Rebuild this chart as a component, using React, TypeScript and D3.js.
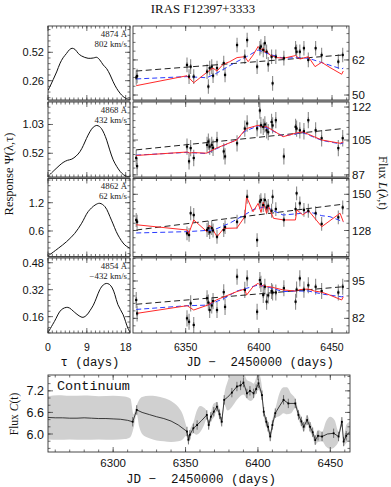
import React from "react";
import * as d3 from "d3";

// ---------------- data ----------------
const TITLE = "IRAS F12397+3333";
const LINE_WAVE = ["4874 Å", "4868 Å", "4862 Å", "4854 Å"];
const LINE_VEL = ["802 km/s", "432 km/s", "62 km/s", "\u2212432 km/s"];

const TAU_TICKS = [0, 9, 18];
const PSI_TICKS = [[0.26, 0.52], [0.52, 1.03], [0.6, 1.2], [0.16, 0.32, 0.48]];
const PSI_TICK_LABELS = [["0.26", "0.52"], ["0.52", "1.03"], ["0.6", "1.2"], ["0.16", "0.32", "0.48"]];
const PSI_DOMAINS = [[0.083, 0.761], [0.1, 1.428], [0.059, 1.713], [0.063, 0.508]];
const PSI_MINOR = [0.052, 0.102, 0.12, 0.032];

const FLUX_TICKS = [[50, 62], [87, 105, 122], [128, 150], [82, 95]];
const FLUX_DOMAINS = [[48.3, 73.6], [85.9, 124.6], [112.2, 159.6], [76.9, 103]];
const FLUX_MINOR = [3, 3.5, 4.4, 2.6];
const FLUX_ERR = [2.5, 4.2, 4.2, 2.8];

const JD_TICKS = [6350, 6400, 6450];
const CONT_JD_TICKS = [6300, 6350, 6400, 6450];
const CONT_TICKS = [6.0, 6.6, 7.2];

// transfer functions Psi(tau)
const PSI1_TAU = [0, 0.5, 1.2, 2.0, 2.8, 3.5, 4.3, 5.0, 5.6, 6.3, 7.0, 7.8, 9.3, 10.5, 11.3, 12.0, 12.8, 13.6, 14.4, 15.1, 15.9, 16.7, 17.4, 18.2, 19];
const PSI1_VAL = [0.17, 0.21, 0.27, 0.34, 0.42, 0.47, 0.51, 0.545, 0.557, 0.545, 0.51, 0.486, 0.465, 0.468, 0.474, 0.45, 0.404, 0.37, 0.312, 0.25, 0.19, 0.145, 0.115, 0.095, 0.088];
const PSI2_TAU = [0, 1.6, 3.5, 4.5, 5.5, 6.5, 7.4, 8.2, 8.9, 9.7, 10.5, 11.3, 11.9, 12.4, 13.0, 13.6, 14.3, 15.1, 15.9, 16.7, 17.5, 18.2, 19];
const PSI2_VAL = [0.11, 0.23, 0.357, 0.395, 0.416, 0.47, 0.548, 0.66, 0.78, 0.9, 0.983, 1.013, 0.995, 0.955, 0.87, 0.752, 0.58, 0.404, 0.29, 0.2, 0.14, 0.113, 0.1];
const PSI3_TAU = [0, 2.4, 4.3, 6.2, 7.8, 9.3, 10.9, 12, 13.2, 14.7, 16.2, 17.8, 19];
const PSI3_VAL = [0.07, 0.234, 0.374, 0.55, 0.764, 1.01, 1.15, 1.187, 1.115, 0.83, 0.516, 0.304, 0.234];
const PSI4_TAU = [0, 1.5, 3.1, 4.6, 6.2, 7.2, 8.1, 9.0, 9.7, 10.5, 11.2, 12.0, 12.8, 13.5, 14.2, 14.9, 15.5, 16.2, 17.4, 18.5, 19];
const PSI4_VAL = [0.065, 0.132, 0.201, 0.215, 0.185, 0.165, 0.156, 0.17, 0.195, 0.228, 0.27, 0.32, 0.348, 0.357, 0.352, 0.33, 0.29, 0.231, 0.172, 0.092, 0.068];

// observed line light curves (common epochs)
const EPOCHS = [6316.2, 6316.8, 6350.9, 6352.3, 6353.4, 6355.5, 6364.6, 6365.5, 6366.4, 6367.8, 6368.7, 6371.4, 6376.0, 6376.9, 6385.1, 6390.4, 6392.0, 6398.8, 6400.7, 6401.4, 6403.0, 6404.1, 6405.3, 6406.4, 6408.7, 6409.4, 6411.6, 6417.1, 6425.1, 6425.8, 6428.0, 6430.8, 6433.8, 6438.8, 6442.9, 6454.3, 6457.3];
const L1 = [56.0, 56.5, 60.3, 56.3, 59.7, 56.3, 58.0, 52.9, 59.2, 59.7, 56.6, 59.2, 60.9, 56.9, 67.1, 63.1, 68.8, 59.7, 66.0, 66.6, 65.4, 67.7, 64.8, 60.5, 63.1, 54.0, 63.1, 62.6, 66.0, 64.8, 64.8, 66.0, 62.0, 66.0, 63.7, 61.4, 63.7];
const L2 = [95.7, 91.5, 101.6, 94.0, 100.8, 95.7, 102.5, 104.2, 101.6, 102.5, 101.0, 105.0, 99.1, 96.5, 103.3, 110.9, 113.5, 111.0, 120.2, 112.6, 111.8, 113.0, 110.0, 109.0, 114.3, 112.5, 115.2, 96.5, 111.8, 110.9, 110.0, 109.5, 115.2, 110.0, 105.9, 100.8, 105.9];
const L3 = [134.4, 133.3, 126.3, 125.3, 138.5, 137.4, 128.3, 129.5, 127.0, 129.5, 128.0, 124.2, 128.3, 130.0, 133.3, 136.4, 148.5, 122.2, 145.5, 146.5, 143.5, 146.5, 142.0, 143.0, 140.0, 148.5, 141.0, 134.5, 141.0, 150.6, 144.5, 140.5, 140.0, 138.5, 132.0, 136.0, 142.0];
const L4 = [88.4, 83.7, 82.0, 80.8, 87.2, 79.7, 89.0, 87.5, 84.9, 86.5, 88.0, 84.9, 91.1, 86.0, 96.5, 91.9, 95.9, 84.3, 95.3, 94.0, 90.1, 93.0, 87.8, 90.0, 91.5, 91.0, 91.0, 92.5, 87.8, 92.0, 95.9, 92.0, 93.5, 93.0, 91.5, 91.0, 93.0];

// model light curves (red solid)
const RED1_JD = [6316.2, 6350.9, 6355.5, 6364.6, 6368.7, 6371.4, 6375.6, 6380.1, 6385.1, 6390.4, 6392.7, 6396.1, 6399.5, 6401.8, 6403, 6404.1, 6405.3, 6407.5, 6412.1, 6417.1, 6425.1, 6428.1, 6433.8, 6438.4, 6442.9, 6448.6, 6456.6, 6457.7];
const RED1_VAL = [53.2, 56.6, 54.2, 57.8, 59.2, 58.2, 60.5, 61.4, 62.8, 63.1, 61.4, 63.7, 66.6, 65.4, 66.0, 64.6, 65.1, 63.7, 62.8, 62.6, 63.5, 62.3, 63.1, 59.7, 61.2, 59.4, 57.1, 58.2];
const RED2_JD = [6316.2, 6351, 6352.5, 6355.5, 6364.3, 6371, 6384.9, 6390.4, 6392, 6399.5, 6401.5, 6403, 6405, 6407.5, 6416.6, 6425, 6430, 6443, 6455.5, 6457.7];
const RED2_VAL = [97, 98.8, 98.3, 98.5, 98.2, 100.8, 105, 110.1, 111, 112.6, 112, 111.5, 112, 110.9, 106.7, 108.5, 109.2, 105, 103.3, 104];
const RED3_JD = [6316.2, 6351, 6352, 6355.5, 6364.5, 6366, 6367.5, 6371.4, 6376, 6385, 6390.4, 6391.6, 6396, 6399.5, 6401.5, 6403, 6405.3, 6406.5, 6410, 6417, 6425, 6426, 6430, 6434, 6443, 6455.5, 6457.7];
const RED3_VAL = [131.5, 128.3, 126, 134.4, 127.3, 131, 130.3, 124.2, 129.3, 129.5, 136.4, 148.5, 139.4, 144.5, 139, 145.1, 138.5, 143, 135.4, 134.4, 134.4, 140.5, 137.5, 140, 130.3, 138.5, 133.3];
const RED4_JD = [6316.2, 6351, 6355.5, 6365, 6370.9, 6384.9, 6390.4, 6391.6, 6396, 6399.5, 6401.8, 6403, 6405.3, 6407.5, 6416.6, 6425, 6428, 6433.8, 6438, 6443, 6448, 6456.6, 6457.7];
const RED4_VAL = [83.7, 86.4, 84.9, 86.6, 88.4, 91.3, 92.2, 90.1, 93, 94.2, 93, 93.6, 93, 93, 91.9, 91.5, 92, 92.2, 91.5, 91.1, 90.2, 88.4, 89.5];

// blue dashed model
const BLUE1_JD = [6316.2, 6350.9, 6364.3, 6370.9, 6384.9, 6391.6, 6399.5, 6407.5, 6416.6, 6425.8, 6433.8, 6444.1, 6456.6, 6457.7];
const BLUE1_VAL = [55.5, 56.3, 55.9, 57.4, 61.4, 63.1, 65.4, 63.9, 62.6, 62.8, 62.6, 60.9, 58.9, 59.2];
const BLUE2_JD = [6316.2, 6351, 6364.3, 6371, 6385, 6390.4, 6399.5, 6403, 6407.5, 6416.6, 6430, 6443, 6455.5, 6457.7];
const BLUE2_VAL = [97.2, 98.6, 98.0, 100.5, 105.2, 109.5, 112.3, 112, 110.5, 107, 108.8, 104.8, 103, 103.5];
const BLUE3_JD = [6316.2, 6351, 6369, 6380, 6390, 6397, 6405, 6410, 6416.6, 6430, 6434, 6443, 6448.6, 6457.7];
const BLUE3_VAL = [126.5, 127.3, 128.3, 132.4, 137.4, 141, 142.5, 140, 137.4, 138.5, 139.5, 137, 136.4, 133.3];
const BLUE4_JD = [6316.2, 6351, 6365, 6376.6, 6384.9, 6399.5, 6407.5, 6416.6, 6425, 6433.8, 6444, 6456.6, 6457.7];
const BLUE4_VAL = [85.1, 86.4, 86.6, 89, 91.5, 93.6, 92.7, 91.3, 91.5, 91.5, 90.4, 89.5, 89.7];

// black dashed linear trend (start, end)
const TREND_JD = [6316.2, 6457.7];
const TREND1 = [58.2, 63.7];
const TREND2 = [99.9, 110.9];
const TREND3 = [128.3, 144.0];
const TREND4 = [86.9, 93.0];

// continuum light curve C(t)
const CONT_JD = [6255, 6260, 6265, 6270, 6275, 6280, 6285, 6290, 6295, 6300, 6305, 6310, 6313.5, 6316.3, 6320, 6325, 6330, 6335, 6340, 6345, 6349, 6351, 6352, 6353, 6355.4, 6358, 6361, 6364.7, 6366, 6367.5, 6369.5, 6371.7, 6373.5, 6375, 6376.7, 6379, 6382, 6385.5, 6388, 6390, 6392.4, 6394.5, 6397, 6398.8, 6400.4, 6402.8, 6404, 6405.8, 6407, 6408.5, 6410, 6412, 6415, 6417.7, 6421, 6425.8, 6428, 6430, 6431.6, 6434, 6436, 6437.8, 6439.6, 6441.5, 6444.3, 6448, 6452.3, 6455.7, 6458, 6459.2, 6461, 6463.6];
const CONT_VAL = [6.46, 6.45, 6.45, 6.44, 6.44, 6.45, 6.44, 6.43, 6.43, 6.42, 6.41, 6.38, 6.34, 6.67, 6.6, 6.54, 6.48, 6.43, 6.36, 6.25, 6.13, 6.07, 5.84, 5.98, 6.16, 6.25, 6.37, 6.53, 6.25, 6.48, 6.62, 6.76, 6.55, 6.34, 6.95, 7.02, 7.15, 7.32, 7.35, 7.43, 7.13, 7.2, 7.13, 7.25, 7.41, 7.08, 6.62, 6.34, 6.2, 5.93, 6.25, 6.58, 6.78, 6.95, 6.85, 6.85, 6.53, 6.35, 6.2, 6.39, 6.2, 6.05, 5.83, 5.95, 5.93, 6.0, 6.02, 5.93, 6.34, 5.79, 5.95, 6.07];
const CONT_OBS_JD = [6313.5, 6316.3, 6351, 6352, 6353, 6355.4, 6358, 6364.7, 6366, 6367.5, 6369.5, 6371.7, 6373.5, 6375, 6376.7, 6382, 6385.5, 6388, 6390, 6392.4, 6394.5, 6397, 6398.8, 6400.4, 6402.8, 6404, 6405.8, 6407, 6408.5, 6410, 6412, 6417.7, 6421, 6425.8, 6428, 6430, 6431.6, 6434, 6436, 6437.8, 6439.6, 6441.5, 6444.3, 6452.3, 6455.7, 6458, 6459.2, 6461];
const CONT_OBS_VAL = [6.34, 6.67, 6.07, 5.84, 5.98, 6.16, 6.25, 6.53, 6.25, 6.48, 6.62, 6.76, 6.55, 6.34, 6.95, 7.15, 7.32, 7.35, 7.43, 7.13, 7.2, 7.13, 7.25, 7.41, 7.08, 6.62, 6.34, 6.2, 5.93, 6.25, 6.58, 6.95, 6.85, 6.85, 6.53, 6.35, 6.2, 6.39, 6.2, 6.05, 5.83, 5.95, 5.93, 6.02, 5.93, 6.34, 5.79, 5.95];
const CONT_ERR = 0.13;

// continuum uncertainty envelope
const BAND_JD = [6255, 6262, 6270, 6280, 6290, 6300, 6308, 6312, 6314, 6316.3, 6318, 6320, 6325, 6330, 6335, 6340, 6345, 6348, 6350.5, 6352, 6353, 6355.4, 6357.5, 6360, 6362.5, 6364.7, 6366, 6367.5, 6369.5, 6371.7, 6373.5, 6375, 6376.7, 6379, 6382, 6385.5, 6390, 6392.4, 6395, 6397, 6400.4, 6402.8, 6404, 6405.8, 6407, 6408.5, 6410, 6412, 6415, 6417.7, 6420, 6423, 6425.8, 6428, 6430, 6431.6, 6434, 6436, 6437.8, 6439.6, 6441.5, 6444.3, 6447, 6450, 6453, 6455.7, 6458, 6459.2, 6461, 6463.6];
const BAND_LO = [5.85, 5.84, 5.85, 5.84, 5.85, 5.84, 5.86, 5.92, 6.15, 6.55, 6.2, 6.0, 5.88, 5.82, 5.8, 5.78, 5.8, 5.85, 5.95, 5.72, 5.86, 6.02, 5.98, 6.05, 6.22, 6.42, 6.13, 6.36, 6.45, 6.64, 6.4, 6.22, 6.82, 6.65, 6.75, 6.95, 7.1, 6.98, 6.92, 6.98, 7.22, 6.92, 6.5, 6.22, 6.06, 5.8, 6.1, 6.45, 6.5, 6.58, 6.55, 6.58, 6.72, 6.4, 6.22, 6.07, 6.26, 6.06, 5.92, 5.7, 5.78, 5.8, 5.65, 5.58, 5.64, 5.8, 6.2, 5.66, 5.75, 5.8];
const BAND_HI = [7.05, 7.08, 7.06, 7.07, 7.05, 7.06, 7.04, 6.98, 6.55, 6.8, 6.95, 7.03, 7.06, 7.05, 7.0, 6.92, 6.75, 6.55, 6.22, 5.98, 6.12, 6.32, 6.62, 6.78, 6.74, 6.64, 6.37, 6.6, 6.85, 6.88, 6.7, 6.46, 7.08, 7.45, 7.7, 7.7, 7.7, 7.5, 7.45, 7.4, 7.7, 7.3, 6.74, 6.46, 6.34, 6.06, 6.4, 6.7, 7.15, 7.3, 7.3, 7.12, 6.98, 6.66, 6.48, 6.33, 6.52, 6.34, 6.18, 5.96, 6.12, 6.06, 6.35, 6.48, 6.38, 6.06, 6.48, 5.92, 6.25, 6.35];

// ---------------- layout ----------------
const LX0 = 48, LX1 = 130, RX0 = 133, RX1 = 349;
const PANEL_Y = [[26, 100], [102, 177], [178.5, 256.5], [258, 333]];
const CY0 = 375, CY1 = 452, CX0 = 48, CX1 = 350;

const SERIF = "'Liberation Serif', 'Times New Roman', serif";
const SANS = "'Liberation Sans', Arial, Helvetica, sans-serif";
const MONO = "'Liberation Mono', 'Courier New', monospace";

const PSI_TAU = [PSI1_TAU, PSI2_TAU, PSI3_TAU, PSI4_TAU];
const PSI_VAL = [PSI1_VAL, PSI2_VAL, PSI3_VAL, PSI4_VAL];
const LFLUX = [L1, L2, L3, L4];
const RED_JD = [RED1_JD, RED2_JD, RED3_JD, RED4_JD];
const RED_VAL = [RED1_VAL, RED2_VAL, RED3_VAL, RED4_VAL];
const BLUE_JD = [BLUE1_JD, BLUE2_JD, BLUE3_JD, BLUE4_JD];
const BLUE_VAL = [BLUE1_VAL, BLUE2_VAL, BLUE3_VAL, BLUE4_VAL];
const TRENDS = [TREND1, TREND2, TREND3, TREND4];

function minorVals(d0: number, d1: number, anchor: number, step: number) {
  const out: number[] = [];
  for (let v = anchor; v <= d1 + 1e-9; v += step) if (v >= d0) out.push(v);
  for (let v = anchor - step; v >= d0 - 1e-9; v -= step) if (v <= d1) out.push(v);
  return out;
}

function Ticks({ x0, x1, y0, y1, xMaj, xMin, yMaj, yMin }: any) {
  const M = 5, m = 2.5;
  const s: string[] = [];
  xMaj.forEach((x: number) => { s.push(`M${x},${y1}V${y1 - M}M${x},${y0}V${y0 + M}`); });
  xMin.forEach((x: number) => { s.push(`M${x},${y1}V${y1 - m}M${x},${y0}V${y0 + m}`); });
  yMaj.forEach((y: number) => { s.push(`M${x0},${y}H${x0 + M}M${x1},${y}H${x1 - M}`); });
  yMin.forEach((y: number) => { s.push(`M${x0},${y}H${x0 + m}M${x1},${y}H${x1 - m}`); });
  return <path d={s.join("")} stroke="#333" strokeWidth={0.7} fill="none" />;
}

export default function App() {
  const tauX = d3.scaleLinear().domain([0, 19]).range([LX0, LX1]);
  const jdX = d3.scaleLinear().domain([6314, 6461.6]).range([RX0, RX1]);
  const cX = d3.scaleLinear().domain([6255, 6463.6]).range([CX0, CX1]);
  const cY = d3.scaleLinear().domain([5.5, 7.64]).range([CY1, CY0]);

  const tauMinor = d3.range(0, 19.01, 1);
  const jdMinor = d3.range(6320, 6461.6, 10);
  const cJdMinor = d3.range(6260, 6463.6, 10);

  const panels = PANEL_Y.map(([y0, y1], i) => {
    const psiY = d3.scaleLinear().domain(PSI_DOMAINS[i]).range([y1, y0]);
    const fY = d3.scaleLinear().domain(FLUX_DOMAINS[i]).range([y1, y0]);
    const psiLine = d3.line<number>().x((_, k) => tauX(PSI_TAU[i][k])).y((v) => psiY(v)).curve(d3.curveCatmullRom);
    const redLine = d3.line<number>().x((_, k) => jdX(RED_JD[i][k])).y((v) => fY(v));
    const blueLine = d3.line<number>().x((_, k) => jdX(BLUE_JD[i][k])).y((v) => fY(v));
    const trendLine = d3.line<number>().x((_, k) => jdX(TREND_JD[k])).y((v) => fY(v));
    const pd = PSI_DOMAINS[i], fd = FLUX_DOMAINS[i];
    const clipL = `clipL${i}`, clipR = `clipR${i}`;
    const err = FLUX_ERR[i];
    return (
      <g key={i}>
        <defs>
          <clipPath id={clipL}><rect x={LX0} y={y0} width={LX1 - LX0} height={y1 - y0} /></clipPath>
          <clipPath id={clipR}><rect x={RX0} y={y0} width={RX1 - RX0} height={y1 - y0} /></clipPath>
        </defs>
        {/* left: transfer function */}
        <path d={psiLine(PSI_VAL[i]) || ""} fill="none" stroke="#111" strokeWidth={1} clipPath={`url(#${clipL})`} />
        <Ticks x0={LX0} x1={LX1} y0={y0} y1={y1}
          xMaj={TAU_TICKS.map(tauX)} xMin={tauMinor.map(tauX)}
          yMaj={PSI_TICKS[i].map(psiY)} yMin={minorVals(pd[0], pd[1], PSI_TICKS[i][0], PSI_MINOR[i]).map(psiY)} />
        <rect x={LX0} y={y0} width={LX1 - LX0} height={y1 - y0} fill="none" stroke="#333" strokeWidth={0.9} />
        {PSI_TICKS[i].map((t, k) => (
          <text key={t} x={44} y={psiY(t) + 4} textAnchor="end" fontFamily={SANS} fontSize={11} fill="#111">{PSI_TICK_LABELS[i][k]}</text>
        ))}
        <text x={127} y={y0 + 10.5} textAnchor="end" fontFamily={SERIF} fontSize={8.8} fill="#222">{LINE_WAVE[i]}</text>
        <text x={127} y={y0 + 20.5} textAnchor="end" fontFamily={SERIF} fontSize={8.8} fill="#222">{LINE_VEL[i]}</text>

        {/* right: light curves */}
        <g clipPath={`url(#${clipR})`}>
          {EPOCHS.map((t, k) => (
            <line key={"e" + k} x1={jdX(t)} x2={jdX(t)} y1={fY(LFLUX[i][k] - err)} y2={fY(LFLUX[i][k] + err)} stroke="#8a8a8a" strokeWidth={1.1} />
          ))}
          {EPOCHS.map((t, k) => (
            <line key={"c" + k} x1={jdX(t)} x2={jdX(t)} y1={fY(LFLUX[i][k] - err * 0.35)} y2={fY(LFLUX[i][k] + err * 0.35)} stroke="#444" strokeWidth={0.8} />
          ))}
          <path d={trendLine(TRENDS[i]) || ""} fill="none" stroke="#222" strokeWidth={1} strokeDasharray="6,3.5" />
          <path d={blueLine(BLUE_VAL[i]) || ""} fill="none" stroke="#2b3cff" strokeWidth={1} strokeDasharray="5,3" />
          <path d={redLine(RED_VAL[i]) || ""} fill="none" stroke="#ff2a2a" strokeWidth={1} />
          {EPOCHS.map((t, k) => (
            <rect key={"p" + k} x={jdX(t) - 1.1} y={fY(LFLUX[i][k]) - 1.1} width={2.2} height={2.2} fill="#000" />
          ))}
        </g>
        <Ticks x0={RX0} x1={RX1} y0={y0} y1={y1}
          xMaj={JD_TICKS.map(jdX)} xMin={jdMinor.map(jdX)}
          yMaj={FLUX_TICKS[i].map(fY)} yMin={minorVals(fd[0], fd[1], FLUX_TICKS[i][0], FLUX_MINOR[i]).map(fY)} />
        <rect x={RX0} y={y0} width={RX1 - RX0} height={y1 - y0} fill="none" stroke="#333" strokeWidth={0.9} />
        {FLUX_TICKS[i].map((t) => (
          <text key={t} x={352} y={fY(t) + 4} textAnchor="start" fontFamily={SANS} fontSize={11.5} fill="#111">{t}</text>
        ))}
      </g>
    );
  });

  const seps = PANEL_Y.slice(0, 3).map(([, b], i) => {
    const t = PANEL_Y[i + 1][0];
    return (
      <g key={"s" + i}>
        <rect x={LX0} y={b} width={LX1 - LX0} height={t - b} fill="#aaa" />
        <rect x={RX0} y={b} width={RX1 - RX0} height={t - b} fill="#aaa" />
      </g>
    );
  });

  const band = d3.area<number>().x((_, k) => cX(BAND_JD[k])).y0((_, k) => cY(BAND_LO[k])).y1((_, k) => cY(BAND_HI[k])).curve(d3.curveMonotoneX);
  const cLine = d3.line<number>().x((_, k) => cX(CONT_JD[k])).y((v) => cY(v));

  return (
    <svg width={391} height={487} viewBox="0 0 391 487" style={{ position: "absolute", left: 0, top: 0, background: "#fff" }}>
      <rect x={0} y={0} width={391} height={487} fill="#fff" />
      <text x={203} y={13} textAnchor="middle" fontFamily={SERIF} fontSize={12.8} fill="#111">{TITLE}</text>
      {seps}
      {panels}

      {/* axis labels upper */}
      {TAU_TICKS.map((t) => (
        <text key={"tl" + t} x={tauX(t)} y={350.5} textAnchor="middle" fontFamily={SANS} fontSize={10.5} fill="#111">{t}</text>
      ))}
      {JD_TICKS.map((t) => (
        <text key={"jl" + t} x={jdX(t)} y={350.5} textAnchor="middle" fontFamily={SANS} fontSize={10.5} fill="#111">{t}</text>
      ))}
      <text x={90} y={366} textAnchor="middle" fontFamily={MONO} fontSize={12.3} fill="#111">τ (days)</text>
      <text x={260} y={366} textAnchor="middle" fontFamily={MONO} fontSize={12.3} fill="#111" style={{ whiteSpace: "pre" }}>{"JD \u2212  2450000 (days)"}</text>
      <text transform="translate(13,174) rotate(-90)" textAnchor="middle" fontFamily={SERIF} fontSize={12.5} fill="#111">
        Response Ψ(λ,τ)
      </text>
      <text transform="translate(379,183) rotate(90)" textAnchor="middle" fontFamily={SERIF} fontSize={12.5} fill="#111">
        Flux <tspan fontStyle="italic">L</tspan>(λ,t)
      </text>

      {/* continuum panel */}
      <defs>
        <clipPath id="clipC"><rect x={CX0} y={CY0} width={CX1 - CX0} height={CY1 - CY0} /></clipPath>
      </defs>
      <g clipPath="url(#clipC)">
        <path d={band(BAND_JD) || ""} fill="#d0d0d0" stroke="none" />
        {CONT_OBS_JD.map((t, k) => (
          <line key={"ce" + k} x1={cX(t)} x2={cX(t)} y1={cY(CONT_OBS_VAL[k] - CONT_ERR)} y2={cY(CONT_OBS_VAL[k] + CONT_ERR)} stroke="#555" strokeWidth={0.8} />
        ))}
        <path d={cLine(CONT_VAL) || ""} fill="none" stroke="#111" strokeWidth={0.8} />
        {CONT_OBS_JD.map((t, k) => (
          <rect key={"cp" + k} x={cX(t) - 0.9} y={cY(CONT_OBS_VAL[k]) - 0.9} width={1.8} height={1.8} fill="#000" />
        ))}
      </g>
      <Ticks x0={CX0} x1={CX1} y0={CY0} y1={CY1}
        xMaj={CONT_JD_TICKS.map(cX)} xMin={cJdMinor.map(cX)}
        yMaj={CONT_TICKS.map(cY)} yMin={minorVals(5.5, 7.64, 6.0, 0.2).map(cY)} />
      <rect x={CX0} y={CY0} width={CX1 - CX0} height={CY1 - CY0} fill="none" stroke="#333" strokeWidth={0.9} />
      {CONT_TICKS.map((t) => (
        <text key={"cy" + t} x={44} y={cY(t) + 4.5} textAnchor="end" fontFamily={SANS} fontSize={12.5} fill="#111">{t.toFixed(1)}</text>
      ))}
      {CONT_JD_TICKS.map((t) => (
        <text key={"cx" + t} x={cX(t)} y={467} textAnchor="middle" fontFamily={SANS} fontSize={11.5} fill="#111">{t}</text>
      ))}
      <text x={57} y={390} fontFamily={MONO} fontSize={13.5} fill="#111">Continuum</text>
      <text x={201} y={483} textAnchor="middle" fontFamily={MONO} fontSize={12.5} fill="#111" style={{ whiteSpace: "pre" }}>{"JD \u2212  2450000 (days)"}</text>
      <text transform="translate(18,414) rotate(-90)" textAnchor="middle" fontFamily={SERIF} fontSize={11.5} fill="#111">
        Flux <tspan fontStyle="italic">C</tspan>(t)
      </text>
    </svg>
  );
}
